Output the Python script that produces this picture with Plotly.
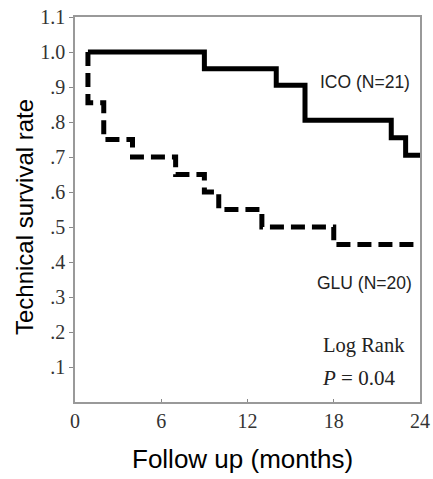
import plotly.graph_objects as go

# ICO group (solid)
ico_months = [0.9, 9, 14, 16, 22, 23, 24]
ico_surv = [1.0, 0.952, 0.905, 0.805, 0.755, 0.705, 0.705]

# GLU group (dashed)
glu_months = [0.9, 0.9, 2, 4, 7, 9, 10, 13, 18, 24]
glu_surv = [1.0, 0.855, 0.75, 0.70, 0.65, 0.60, 0.55, 0.50, 0.45, 0.45]

x_ticks = [0, 6, 12, 18, 24]
y_tickvals = [0.1, 0.2, 0.3, 0.4, 0.5, 0.6, 0.7, 0.8, 0.9, 1.0, 1.1]
y_ticktext = [".1", ".2", ".3", ".4", ".5", ".6", ".7", ".8", ".9", "1.0", "1.1"]

fig = go.Figure()
fig.add_trace(go.Scatter(x=ico_months, y=ico_surv, mode="lines",
                         line=dict(color="black", width=5, shape="hv"),
                         showlegend=False))
fig.add_trace(go.Scatter(x=glu_months, y=glu_surv, mode="lines",
                         line=dict(color="black", width=5, shape="hv", dash="14px,7px"),
                         showlegend=False))

serif = "Liberation Serif"
sans = "Liberation Sans"

L, R, T, B = 75, 420, 17, 402


def px2paper(px, py):
    return (px - L) / (R - L), (B - py) / (B - T)


for text, px, py, fam, size in [
    ("ICO (N=21)", 365, 82, sans, 17.5),
    ("GLU (N=20)", 364, 283, sans, 17.5),
    ("Log Rank", 364, 345, serif, 20.5),
    ("<i>P</i> = 0.04", 358, 378, serif, 21),
]:
    ax, ay = px2paper(px, py)
    fig.add_annotation(x=ax, y=ay, xref="paper", yref="paper", text=text,
                       xanchor="center", yanchor="middle", showarrow=False,
                       font=dict(family=fam, size=size, color="#222"))

# axis titles placed as annotations for exact positioning
tx, ty = px2paper(242, 459)
fig.add_annotation(x=tx, y=ty, xref="paper", yref="paper", text="Follow up (months)",
                   xanchor="center", yanchor="middle", showarrow=False,
                   font=dict(family=sans, size=26, color="black"))
tx, ty = px2paper(25, 217)
fig.add_annotation(x=tx, y=ty, xref="paper", yref="paper", text="Technical survival rate",
                   xanchor="center", yanchor="middle", showarrow=False, textangle=-90,
                   font=dict(family=sans, size=24, color="black"))

fig.update_layout(
    width=433, height=479,
    margin=dict(l=L, r=433 - R, t=T, b=479 - B),
    plot_bgcolor="white", paper_bgcolor="white",
    xaxis=dict(range=[0, 24], tickvals=x_ticks, ticks="inside", ticklen=3,
               tickcolor="#888", showgrid=False, zeroline=False, automargin=False,
               showline=True, linecolor="#999", linewidth=1.5, mirror=True,
               tickfont=dict(family=serif, size=20, color="#333")),
    yaxis=dict(range=[0, 1.1], tickvals=y_tickvals, ticktext=y_ticktext,
               ticks="outside", ticklen=4, tickcolor="#888", automargin=False,
               showgrid=False, zeroline=False,
               showline=True, linecolor="#999", linewidth=1.5, mirror=True,
               tickfont=dict(family=serif, size=20, color="#333")),
)

fig.write_html("out.html")
